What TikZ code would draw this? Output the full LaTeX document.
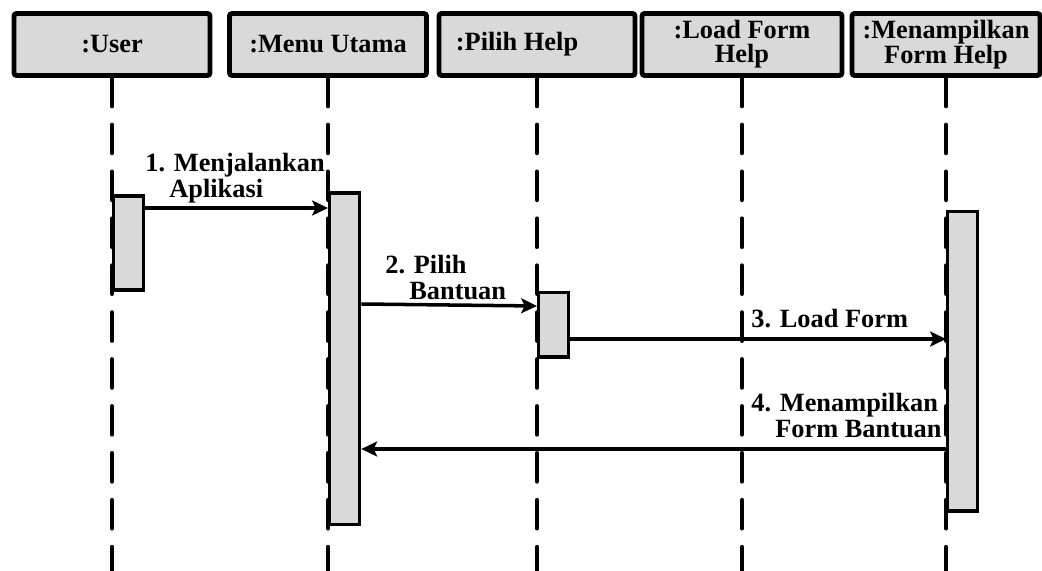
\documentclass[tikz,border=0pt]{standalone}
\usepackage{fontspec}
\setmainfont{Liberation Serif}
\usetikzlibrary{positioning,arrows.meta}

\definecolor{boxgray}{HTML}{D9D9D9}
\newcommand{\ind}{\hspace*{0.48cm}}

\begin{document}
\begin{tikzpicture}[
    x=0.02cm, y=-0.02cm,
    >={Stealth[length=9pt,width=8.5pt,inset=2pt]},
    font=\fontsize{15}{14.5}\selectfont\bfseries,
    obj/.style={draw, line width=2.8pt, fill=boxgray, rounded corners=1.5pt,
      minimum height=1.24cm, align=center, inner sep=2pt,
      font=\fontsize{15}{13.5}\selectfont\bfseries},
    life/.style={line width=2.6pt, line cap=round, dash pattern=on 16pt off 10.7pt},
    act/.style={draw, line width=1.9pt, fill=boxgray, minimum width=0.6cm,
      inner sep=0pt, anchor=north west},
    msg/.style={->, line width=2pt},
    lbl/.style={anchor=north west, inner sep=0pt, align=left}
  ]
  \useasboundingbox (0,0) rectangle (1042,571);

  % objek
  \node[obj, minimum width=3.92cm] (user) at (112,44.5) {:User};
  \node[obj, minimum width=3.94cm] (menu) at (328,44.5) {:Menu Utama};
  \node[obj, minimum width=3.92cm] (pilih) at (537,44.5) {:Pilih Help\hspace*{0.8cm}};
  \node[obj, minimum width=4.0cm] (load) at (742,44.5) {:Load Form\\Help};
  \node[obj, minimum width=3.76cm] (tampil) at (946,44.5) {:Menampilkan\\Form Help};

  % lifeline
  \foreach \o in {user,menu,pilih,load,tampil}
    \draw[life] (\o.south) -- (\o.south |- 0,571);

  % aktivasi
  \node[act, minimum height=1.88cm] (uact) at (user.south |- 0,194.5) {};
  \node[act, minimum height=6.63cm] (mact) at (menu.south |- 0,191.5) {};
  \node[act, minimum height=1.3cm] (pact) at (pilih.south |- 0,290.5) {};
  \node[act, minimum height=6.0cm] (fact) at (tampil.south |- 0,209.5) {};

  % pesan
  \draw[msg] (uact.east |- 0,208) -- (mact.west |- 0,208);
  \draw[msg] (mact.east |- 0,304) -- (pact.west |- 0,306);
  \draw[msg] (pact.east |- 0,339) -- (fact.west |- 0,339);
  \draw[msg] (fact.west |- 0,449) -- (mact.east |- 0,449);

  \node[lbl] (m1) at (145,153) {1. Menjalankan\\\ind Aplikasi};
  \node[lbl] (m2) at (385,255) {2. Pilih\\\ind Bantuan};
  \node[lbl] (m3) at (751,309) {3. Load Form};
  \node[lbl] (m4) at (751,393) {4. Menampilkan\\\ind Form Bantuan};

\end{tikzpicture}
\end{document}
